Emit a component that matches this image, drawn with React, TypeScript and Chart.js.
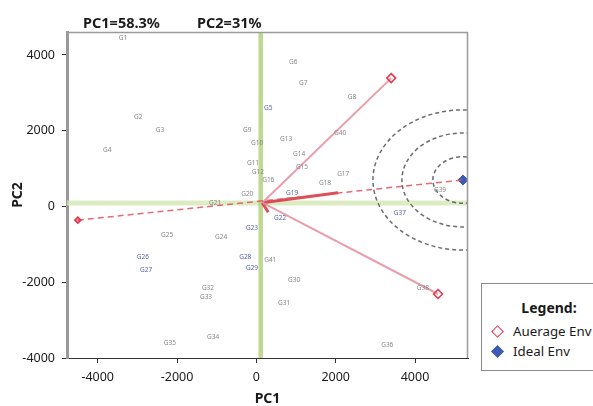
import React, { useEffect, useRef } from "react";
import { Chart, registerables } from "chart.js";

Chart.register(...registerables);

const FONT = '"Noto Sans", "DejaVu Sans", sans-serif';

// axis ticks and ranges
const xTicks = [-4000, -2000, 0, 2000, 4000];
const yTicks = [-4000, -2000, 0, 2000, 4000];
const xMin = -4774;
const xMax = 5336;
const yMin = -4000;
const yMax = 4607;

const titleParts = ["PC1=58.3%", "PC2=31%"];

// genotypes (scores on PC1 / PC2)
const genotypeNames = [
  "G1", "G2", "G3", "G4", "G5", "G6", "G7", "G8", "G9", "G10",
  "G11", "G12", "G13", "G14", "G15", "G16", "G17", "G18", "G19", "G20",
  "G21", "G22", "G23", "G24", "G25", "G26", "G27", "G28", "G29", "G30",
  "G31", "G32", "G33", "G34", "G35", "G36", "G37", "G38", "G39", "G40", "G41",
];
const genotypePC1 = [
  -3360, -2980, -2430, -3760, 300, 930, 1180, 2410, -230, 20,
  -80, 40, 750, 1080, 1150, 300, 2190, 1730, 900, -230,
  -1040, 600, -110, -890, -2250, -2860, -2780, -280, -110, 950,
  700, -1220, -1270, -1090, -2180, 3300, 3620, 4200, 4630, 2110, 350,
];
const genotypePC2 = [
  4450, 2360, 2020, 1490, 2600, 3810, 3260, 2890, 2020, 1680,
  1150, 910, 1780, 1390, 1040, 700, 860, 620, 360, 330,
  90, -300, -570, -810, -750, -1330, -1680, -1330, -1620, -1940,
  -2550, -2150, -2390, -3450, -3600, -3660, -170, -2150, 440, 1940, -1410,
];
const blueGenotypes = ["G5", "G19", "G22", "G23", "G26", "G27", "G28", "G29", "G37"];

// environments
const envNames = ["E1", "E2", "E3", "E4"];
const envPC1 = [3400, 4580, 2060, 300];
const envPC2 = [3390, -2310, 360, -150];
const vectorOriginPC1 = 150;
const vectorOriginPC2 = 100;

// average environment axis and ideal environment
const aeaStartPC1 = -4500;
const aeaStartPC2 = -360;
const idealPC1 = 5210;
const idealPC2 = 700;

// mean reference lines
const meanPC1 = 110;
const meanPC2 = 90;

// concentric rings around the ideal environment (PC units)
const ringRadiusPC1 = [760, 1540, 2270];
const ringRadiusPC2 = [615, 1240, 1850];

const legendTitle = "Legend:";
const legendItems = ["Auerage Env", "Ideal Env"];

const biplotPlugin = {
  id: "biplotDecor",
  beforeDatasetsDraw(chart: any) {
    const { ctx, chartArea: a, scales } = chart;
    const x = scales.x;
    const y = scales.y;
    ctx.save();
    ctx.beginPath();
    ctx.rect(a.left, a.top, a.right - a.left, a.bottom - a.top);
    ctx.clip();

    // mean lines
    const gx = x.getPixelForValue(meanPC1);
    const gy = y.getPixelForValue(meanPC2);
    ctx.lineWidth = 5;
    ctx.strokeStyle = "rgba(212,230,180,0.8)";
    ctx.beginPath();
    ctx.moveTo(a.left, gy);
    ctx.lineTo(a.right, gy);
    ctx.stroke();
    ctx.lineWidth = 4.5;
    ctx.strokeStyle = "rgba(180,210,125,0.85)";
    ctx.beginPath();
    ctx.moveTo(gx, a.top);
    ctx.lineTo(gx, a.bottom);
    ctx.stroke();

    // rings
    const cx = x.getPixelForValue(idealPC1);
    const cy = y.getPixelForValue(idealPC2);
    ctx.setLineDash([4, 3]);
    ctx.strokeStyle = "rgba(70,70,80,0.8)";
    ctx.lineWidth = 1.5;
    for (let i = 0; i < ringRadiusPC1.length; i++) {
      const rx = x.getPixelForValue(idealPC1 + ringRadiusPC1[i]) - cx;
      const ry = cy - y.getPixelForValue(idealPC2 + ringRadiusPC2[i]);
      ctx.beginPath();
      ctx.ellipse(cx, cy, Math.abs(rx), Math.abs(ry), 0, 0, Math.PI * 2);
      ctx.stroke();
    }
    ctx.restore();
  },
  afterDatasetsDraw(chart: any) {
    const { ctx, chartArea: a, scales } = chart;
    const x = scales.x;
    const y = scales.y;
    ctx.save();
    ctx.beginPath();
    ctx.rect(a.left, a.top, a.right - a.left, a.bottom - a.top);
    ctx.clip();
    ctx.font = `6.5px ${FONT}`;
    ctx.textAlign = "center";
    ctx.textBaseline = "middle";
    genotypeNames.forEach((name, i) => {
      ctx.fillStyle = blueGenotypes.includes(name) ? "#5563b0" : "#858585";
      ctx.fillText(name, x.getPixelForValue(genotypePC1[i]), y.getPixelForValue(genotypePC2[i]));
    });
    ctx.restore();

    // frame (top and right)
    ctx.save();
    ctx.strokeStyle = "#9a9a9a";
    ctx.lineWidth = 1.5;
    ctx.beginPath();
    ctx.moveTo(a.left, a.top + 0.5);
    ctx.lineTo(a.right - 0.5, a.top + 0.5);
    ctx.lineTo(a.right - 0.5, a.bottom);
    ctx.stroke();
    ctx.restore();

    // title
    ctx.save();
    ctx.font = `bold 14.5px ${FONT}`;
    ctx.fillStyle = "#1a1a1a";
    ctx.textAlign = "left";
    ctx.textBaseline = "alphabetic";
    ctx.fillText(titleParts[0], 83, 28);
    ctx.fillText(titleParts[1], 197, 28);
    ctx.restore();
  },
};

export default function App() {
  const canvasRef = useRef<HTMLCanvasElement | null>(null);

  useEffect(() => {
    if (!canvasRef.current) return;
    const origin = { x: vectorOriginPC1, y: vectorOriginPC2 };
    const vectorColors = [
      "rgba(230,140,155,0.85)",
      "rgba(230,140,155,0.85)",
      "rgba(215,60,70,0.9)",
      "rgba(215,60,70,0.9)",
    ];
    const vectorWidths = [2, 2, 3, 3];
    const vectorSets = envNames.map((name, i) => ({
      label: name,
      data: [origin, { x: envPC1[i], y: envPC2[i] }],
      showLine: true,
      borderColor: vectorColors[i],
      borderWidth: vectorWidths[i],
      pointRadius: [0, i < 2 ? 4.5 : 0],
      pointStyle: "rectRot",
      pointBorderColor: "#e8334a",
      pointBackgroundColor: "rgba(255,255,255,0)",
      pointBorderWidth: 1.5,
    }));

    const chart = new Chart(canvasRef.current, {
      type: "scatter",
      data: {
        datasets: [
          {
            label: "AEA",
            data: [
              { x: aeaStartPC1, y: aeaStartPC2 },
              { x: idealPC1, y: idealPC2 },
            ],
            showLine: true,
            borderColor: "rgba(225,80,95,0.85)",
            borderWidth: 1.5,
            borderDash: [6, 4],
            pointRadius: [3, 0],
            pointStyle: "rectRot",
            pointBorderColor: "#e8334a",
            pointBackgroundColor: "rgba(232,51,74,0.5)",
          },
          ...vectorSets,
          {
            label: "Ideal",
            data: [{ x: idealPC1, y: idealPC2 }],
            pointRadius: 5,
            pointStyle: "rectRot",
            pointBackgroundColor: "#3d5bb5",
            pointBorderColor: "#3d5bb5",
            clip: 0,
          },
          {
            label: "Genotypes",
            data: genotypeNames.map((_, i) => ({ x: genotypePC1[i], y: genotypePC2[i] })),
            pointRadius: 0,
          },
        ],
      } as any,
      options: {
        responsive: false,
        animation: false,
        devicePixelRatio: 1,
        layout: { padding: { top: 32, right: 125, left: 0, bottom: 0 } },
        plugins: {
          legend: { display: false },
          tooltip: { enabled: false },
          title: { display: false },
        },
        scales: {
          x: {
            type: "linear",
            min: xMin,
            max: xMax,
            afterBuildTicks: (s: any) => {
              s.ticks = xTicks.map((v) => ({ value: v }));
            },
            afterFit: (s: any) => {
              s.height = 48;
            },
            grid: { drawOnChartArea: false, drawTicks: true, tickLength: 5, color: "#333" },
            border: { display: true, color: "#333", width: 1 },
            ticks: {
              color: "#1a1a1a",
              padding: 7,
              font: { family: FONT, size: 12.5 },
              callback: (v: any) => String(v),
            },
            title: {
              display: true,
              text: "PC1",
              color: "#1a1a1a",
              font: { family: FONT, size: 14, weight: "bold", lineHeight: 1 },
              padding: { top: 0, bottom: 0 },
            },
          },
          y: {
            type: "linear",
            min: yMin,
            max: yMax,
            afterBuildTicks: (s: any) => {
              s.ticks = yTicks.map((v) => ({ value: v }));
            },
            afterFit: (s: any) => {
              s.width = 67;
            },
            grid: { drawOnChartArea: false, drawTicks: true, tickLength: 5, color: "#333" },
            border: { display: true, color: "#999", width: 3 },
            ticks: {
              color: "#1a1a1a",
              padding: 7,
              font: { family: FONT, size: 12.5 },
              callback: (v: any) => String(v),
            },
            title: {
              display: true,
              text: "PC2",
              color: "#1a1a1a",
              font: { family: FONT, size: 14, weight: "bold", lineHeight: 1 },
              padding: { top: 11, bottom: 0 },
            },
          },
        },
      } as any,
      plugins: [biplotPlugin],
    });
    return () => chart.destroy();
  }, []);

  const diamond = (fill: string, stroke: string): React.CSSProperties => ({
    position: "absolute",
    left: 0,
    top: "50%",
    width: 7,
    height: 7,
    marginTop: -4.5,
    transform: "rotate(45deg)",
    background: fill,
    border: `1.5px solid ${stroke}`,
    boxSizing: "content-box",
  });

  return (
    <div
      style={{
        position: "fixed",
        left: 0,
        top: 0,
        width: 593,
        height: 406,
        overflow: "hidden",
        background: "#fff",
      }}
    >
      <canvas ref={canvasRef} width={593} height={406} style={{ display: "block" }} />
      <div
        style={{
          position: "absolute",
          left: 481,
          top: 283,
          width: 134,
          height: 86,
          border: "1px solid #8a8a8a",
          background: "#fff",
          fontFamily: FONT,
          color: "#1a1a1a",
        }}
      >
        <div
          style={{
            position: "absolute",
            left: 0,
            right: 0,
            top: 15,
            textAlign: "center",
            fontWeight: "bold",
            fontSize: 14,
            lineHeight: "18px",
          }}
        >
          {legendTitle}
        </div>
        <div style={{ position: "absolute", left: 11, top: 38, height: 18, fontSize: 13.3, lineHeight: "18px", whiteSpace: "nowrap", paddingLeft: 20 }}>
          <span style={diamond("#fff", "#e8334a")} />
          {legendItems[0]}
        </div>
        <div style={{ position: "absolute", left: 11, top: 58, height: 18, fontSize: 13.3, lineHeight: "18px", whiteSpace: "nowrap", paddingLeft: 20 }}>
          <span style={diamond("#3d5bb5", "#3d5bb5")} />
          {legendItems[1]}
        </div>
      </div>
    </div>
  );
}
